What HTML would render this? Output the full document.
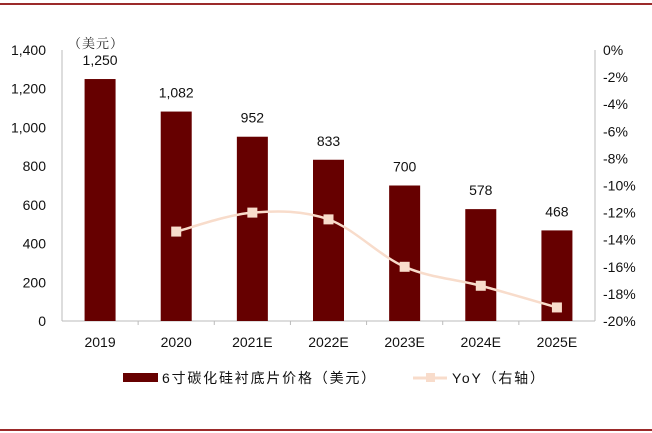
<!DOCTYPE html>
<html><head><meta charset="utf-8"><style>
body{margin:0;background:#fff}
svg{display:block;font-family:"Liberation Sans","Noto Sans CJK SC",sans-serif}
</style></head><body>
<svg width="652" height="433" viewBox="0 0 652 433">
<line x1="0" y1="4" x2="652" y2="4" stroke="#9b2a2a" stroke-width="2"/>
<line x1="0" y1="430" x2="652" y2="430" stroke="#9b2a2a" stroke-width="2"/>
<g id="plot"></g>
<text x="68" y="48" font-size="13" fill="#222" letter-spacing="1" font-family="'Noto Serif CJK SC',serif">（美元）</text>
<g>
<rect x="123" y="373" width="35" height="9" fill="#660000"/>
<text x="162" y="383" font-size="14" fill="#111" letter-spacing="1.8">6寸碳化硅衬底片价格（美元）</text>
<line x1="413" y1="378" x2="447" y2="378" stroke="#f8dccb" stroke-width="3"/>
<rect x="426" y="373" width="9" height="9" fill="#f8dccb"/>
<text x="452" y="383" font-size="14" fill="#111" letter-spacing="1.8">YoY（右轴）</text>
</g>
</svg>
<script>
const categories=["2019","2020","2021E","2022E","2023E","2024E","2025E"];
const prices=[1250,1082,952,833,700,578,468];
const yoy=[null,-13.4,-12.0,-12.5,-16.0,-17.4,-19.0];
const leftTicks=[0,200,400,600,800,1000,1200,1400];
const rightTicks=[0,-2,-4,-6,-8,-10,-12,-14,-16,-18,-20];
const NS="http://www.w3.org/2000/svg";
const g=document.getElementById('plot');
const X0=62,X1=595,Y0=321,Y1=50;
const cw=(X1-X0)/categories.length;
const xc=i=>X0+cw*(i+0.5);
const yL=v=>Y0-(v/1400)*(Y0-Y1);
const yR=v=>Y1+(-v/20)*(Y0-Y1);
function el(t,a){const e=document.createElementNS(NS,t);for(const k in a)e.setAttribute(k,a[k]);g.appendChild(e);return e;}
let e;
e=el('line',{x1:X0,y1:Y1,x2:X0,y2:Y0,stroke:'#bbb'});


e=el('line',{x1:X1,y1:Y1,x2:X1,y2:Y0,stroke:'#bbb'});


e=el('line',{x1:X0,y1:Y0,x2:X1,y2:Y0,stroke:'#bbb'});


leftTicks.forEach(v=>{
 const t=el('text',{x:46,y:yL(v)+5,'text-anchor':'end','font-size':14,fill:'#111'});t.textContent=v.toLocaleString('en-US');
 
 
});
rightTicks.forEach(v=>{
 const t=el('text',{x:603,y:yR(v)+5,'font-size':14,fill:'#111'});t.textContent=v+'%';
 
 
});
for(let i=1;i<categories.length;i++){
 const x=X0+cw*i;
 const t=el('line',{x1:x,y1:Y0,x2:x,y2:Y0+4,stroke:'#bbb'});
 
 
}
categories.forEach((c,i)=>{
 const t=el('text',{x:xc(i),y:347,'text-anchor':'middle','font-size':14,fill:'#111'});t.textContent=c;
 
 
 const b=el('rect',{x:xc(i)-15.5,y:yL(prices[i]),width:31,height:Y0-yL(prices[i]),fill:'#660000'});
 
 
 const l=el('text',{x:xc(i),y:yL(prices[i])-14,'text-anchor':'middle','font-size':14,fill:'#111'});l.textContent=prices[i].toLocaleString('en-US');
 
 
});
const pts=[];yoy.forEach((v,i)=>{if(v!==null)pts.push([xc(i),yR(v)]);});
let d='M'+pts[0][0]+','+pts[0][1];
for(let i=0;i<pts.length-1;i++){
 const p0=pts[i-1]||pts[i],p1=pts[i],p2=pts[i+1],p3=pts[i+2]||p2;
 const c1=[p1[0]+(p2[0]-p0[0])/6,p1[1]+(p2[1]-p0[1])/6],c2=[p2[0]-(p3[0]-p1[0])/6,p2[1]-(p3[1]-p1[1])/6];
 d+=' C'+c1+' '+c2+' '+p2;
}
e=el('path',{d:d,fill:'none',stroke:'#f8dccb','stroke-width':2.5});


pts.forEach(p=>{
 const m=el('rect',{x:p[0]-5,y:p[1]-5,width:10,height:10,fill:'#f8dccb'});
 
 
});
</script>
</body></html>
